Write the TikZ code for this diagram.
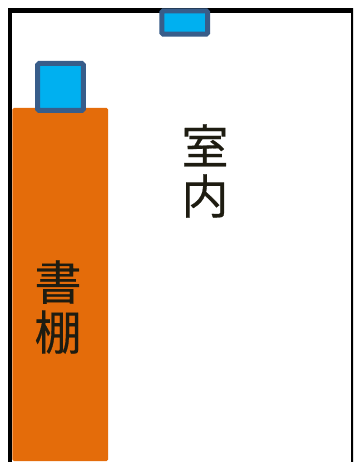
\documentclass[tikz,border=0pt]{standalone}
\usepackage{fontspec}
\newfontfamily\cjk[FakeBold=0.4]{Noto Sans CJK JP}
\tikzset{
  px/.style={x=1pt,y=-1pt},
  wall/.style={draw=black,line width=4.5pt},
  shelf/.style={fill=shelfc,rounded corners=1.5pt},
  vent/.style={fill=ventc,draw=ventb,line width=5pt,rounded corners=1.5pt},
  lab/.style={font=\cjk\fontsize{47}{50}\selectfont,text=labc,align=center,inner sep=0pt}
}
\definecolor{shelfc}{HTML}{E46C0A}
\definecolor{ventc}{HTML}{00B0F0}
\definecolor{ventb}{HTML}{385D8A}
\definecolor{labc}{HTML}{1E1C11}
\begin{document}
\begin{tikzpicture}[px]
\useasboundingbox (0,0) rectangle (353,462);
\fill[white] (0,0) rectangle (353,462);
\begin{scope}
\clip (0,0) rectangle (353,462);
\draw[wall] (10.2,462) -- (10.2,10.6) -- (353.2,10.6) -- (353.2,462);
\end{scope}
\fill[shelf] (12.3,108) rectangle (108,461);
\draw[vent] (37.6,63.5) rectangle (83.3,110.5);
\draw[vent] (161.8,10.8) rectangle (207.6,34.2);
\node[lab] (room) at (205,171) {室\\内};
\node[lab] (books) at (58,307) {書\\棚};
\end{tikzpicture}
\end{document}
